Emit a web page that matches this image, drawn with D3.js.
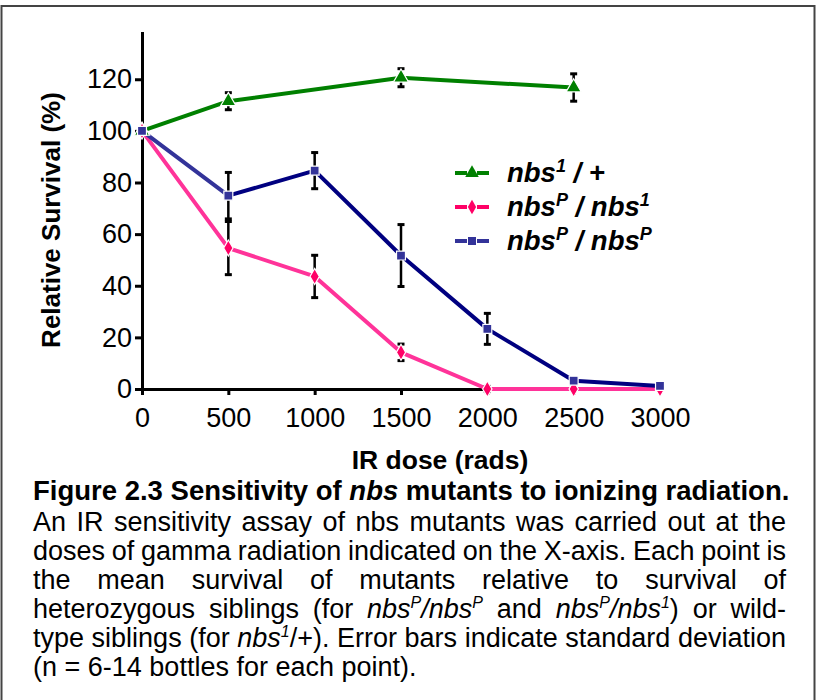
<!DOCTYPE html>
<html>
<head>
<meta charset="utf-8">
<script src="https://cdnjs.cloudflare.com/ajax/libs/d3/7.8.5/d3.min.js"></script>
<style>
  body { margin: 0; background: #fff; }
  svg text { font-family: "Liberation Sans", Arial, Helvetica, sans-serif; }
</style>
</head>
<body>
<svg id="chart" width="817" height="700"></svg>
<script>
// dose axis (rads) and survival ticks
const doses = [0, 500, 1000, 1500, 2000, 2500, 3000]
const yTicks = [0, 20, 40, 60, 80, 100, 120]

// nbs1/+  (relative to wild-type siblings)
const hetDose = [0, 500, 1500, 2500]
const hetMean = [100, 111.5, 120.6, 116.8]
const hetSd = [0, 3.3, 3.5, 5.3]

// nbsP/nbs1
const pOneDose = [0, 500, 1000, 1500, 2000, 2500, 3000]
const pOneMean = [100, 54.6, 43.6, 14.2, 0, 0, 0]
const pOneSd = [0, 10.3, 8.2, 3.2, 1, 0, 0]

// nbsP/nbsP
const pPDose = [0, 500, 1000, 1500, 2000, 2500, 3000]
const pPMean = [100, 74.9, 84.6, 51.7, 23.3, 3.2, 1.2]
const pPSd = [0, 9, 7, 12, 6, 0, 0]

// legend labels: *..* italic, ^x superscript
const legendLabels = ["nbs^1 / +", "nbs^P / nbs^1", "nbs^P / nbs^P"]

const xTitle = "IR dose (rads)"
const yTitle = "Relative Survival (%)"
const capTitle = "Figure 2.3 Sensitivity of *nbs* mutants to ionizing radiation."
const capLines = [
  "An IR sensitivity assay of nbs mutants was carried out at the",
  "doses of gamma radiation indicated on the X-axis. Each point is",
  "the mean survival of mutants relative to survival of",
  "heterozygous siblings (for *nbs^P/nbs^P* and *nbs^P/nbs^1*) or wild-",
  "type siblings (for *nbs^1*/+). Error bars indicate standard deviation",
  "(n = 6-14 bottles for each point)."
]

const series = [
  { dose: hetDose, mean: hetMean, sd: hetSd, color: "#008000", lead: "#008000", mark: "#008000", shape: d3.symbolTriangle, size: 100 },
  { dose: pOneDose, mean: pOneMean, sd: pOneSd, color: "#ff3399", lead: "#ff3399", mark: "#ff0066", shape: d3.symbolDiamond, size: 75 },
  { dose: pPDose, mean: pPMean, sd: pPSd, color: "#000080", lead: "#333399", mark: "#333399", shape: d3.symbolSquare, size: 80 }
]
series.forEach((s, i) => {
  s.label = legendLabels[i]
  s.pts = s.dose.map((d, j) => ({ x: d, y: s.mean[j], e: s.sd[j] }))
})

const svg = d3.select("#chart")

// frame around the figure
svg.append("rect")
  .attr("x", 1.5).attr("y", 6).attr("width", 813).attr("height", 700)
  .attr("fill", "none").attr("stroke", "#444").attr("stroke-width", 2)

const x = d3.scaleLinear().domain([0, 3000]).range([142, 660])
const y = d3.scaleLinear().domain([0, 138.5]).range([389, 31.5])

// axes
const yAxis = svg.append("g")
  .attr("transform", `translate(${x(0)},0)`)
  .call(d3.axisLeft(y).tickValues(yTicks).tickSize(7).tickSizeOuter(0).tickPadding(3))
const xAxis = svg.append("g")
  .attr("transform", `translate(0,${y(0)})`)
  .call(d3.axisBottom(x).tickValues(doses).tickFormat(d3.format("d"))
    .tickSize(6).tickSizeOuter(0).tickPadding(13))

;[xAxis, yAxis].forEach(g => {
  g.select(".domain").attr("stroke", "#000").attr("stroke-width", 3)
  g.selectAll(".tick line").attr("stroke", "#000").attr("stroke-width", 3)
  g.selectAll(".tick text").attr("fill", "#000").style("font-size", "27px")
})

svg.append("text")
  .attr("transform", "translate(60,220) rotate(-90)")
  .attr("text-anchor", "middle")
  .style("font-size", "26px").style("font-weight", "bold")
  .text(yTitle)

svg.append("text")
  .attr("x", 440).attr("y", 469)
  .attr("text-anchor", "middle")
  .style("font-size", "26.5px").style("font-weight", "bold")
  .text(xTitle)

// lines, drawn segment by segment so a series may start with a lighter lead
const plot = svg.append("g")
series.forEach(s => {
  plot.append("g").selectAll("line")
    .data(d3.pairs(s.pts))
    .join("line")
    .attr("x1", d => x(d[0].x)).attr("y1", d => y(d[0].y))
    .attr("x2", d => x(d[1].x)).attr("y2", d => y(d[1].y))
    .attr("stroke", (d, i) => i === 0 ? s.lead : s.color)
    .attr("stroke-width", 4)
    .attr("stroke-linecap", "round")
})

// error bars
series.forEach(s => {
  const eb = plot.append("g").selectAll("g")
    .data(s.pts.filter(p => p.e > 0))
    .join("g")
    .attr("stroke", "#000")
  eb.append("line")
    .attr("x1", d => x(d.x)).attr("x2", d => x(d.x))
    .attr("y1", d => y(d.y + d.e)).attr("y2", d => y(d.y - d.e))
    .attr("stroke-width", 2.5)
  eb.selectAll("line.cap")
    .data(d => [d.y + d.e, d.y - d.e].map(v => ({ x: d.x, v })))
    .join("line")
    .attr("class", "cap")
    .attr("x1", d => x(d.x) - 3.5).attr("x2", d => x(d.x) + 3.5)
    .attr("y1", d => y(d.v)).attr("y2", d => y(d.v))
    .attr("stroke-width", 3)
})

// markers
series.forEach(s => {
  plot.append("g").selectAll("path")
    .data(s.pts)
    .join("path")
    .attr("transform", d => `translate(${x(d.x)},${y(d.y)})`)
    .attr("d", d3.symbol(s.shape, s.size))
    .attr("fill", s.mark)
    .attr("stroke", "#fff")
    .attr("stroke-width", 1.2)
})

// rich text helper: *italic*, ^c superscript
function parseRuns(str) {
  const out = []
  let it = false, buf = ""
  for (let i = 0; i < str.length; i++) {
    const c = str[i]
    if (c === "*") { if (buf) out.push({ t: buf, i: it }); buf = ""; it = !it }
    else if (c === "^") { if (buf) out.push({ t: buf, i: it }); buf = ""; out.push({ t: str[++i], i: it, s: true }) }
    else buf += c
  }
  if (buf) out.push({ t: buf, i: it })
  return out
}

function richText(sel, str, size, supSize, supRise) {
  let shifted = 0
  parseRuns(str).forEach(r => {
    const ts = sel.append("tspan").text(r.t)
      .style("font-style", r.i ? "italic" : null)
    if (r.s) {
      ts.style("font-size", supSize + "px").attr("dy", -supRise - shifted)
      shifted = -supRise
    } else {
      ts.style("font-size", size + "px")
      if (shifted) { ts.attr("dy", -shifted); shifted = 0 }
    }
  })
  return sel
}

// legend
const legend = svg.append("g")
series.forEach((s, i) => {
  const cy = 173 + i * 34
  const row = legend.append("g").attr("transform", `translate(455,${cy})`)
  row.append("line").attr("x1", 0).attr("x2", 12).attr("stroke", s.mark).attr("stroke-width", 4)
  row.append("line").attr("x1", 22).attr("x2", 34).attr("stroke", s.mark).attr("stroke-width", 4)
  row.append("path").attr("transform", "translate(17,0)")
    .attr("d", d3.symbol(s.shape, s.size * 0.8)).attr("fill", s.mark)
  const t = row.append("text").attr("x", 52).attr("y", 9)
    .style("font-weight", "bold").style("font-style", "italic")
  richText(t, s.label, 27.5, 18, 10)
})

// caption
const capLeft = 33, capRight = 786
svg.append("text").attr("x", capLeft).attr("y", 500)
  .style("font-weight", "bold")
  .call(t => richText(t, capTitle, 27.5, 17, 9))

capLines.forEach((line, li) => {
  const baseY = 531 + li * 29
  const g = svg.append("g").attr("transform", `translate(${capLeft},${baseY})`)
  const words = line.split(" ").map(w => {
    const t = g.append("text")
    richText(t, w, 27, 16, 10)
    return { node: t, w: t.node().getComputedTextLength() }
  })
  const total = d3.sum(words, d => d.w)
  const last = li === capLines.length - 1
  const gap = last ? 7.5 : (capRight - capLeft - total) / (words.length - 1)
  let cx = 0
  words.forEach(d => { d.node.attr("x", cx); cx += d.w + gap })
})
</script>
</body>
</html>
